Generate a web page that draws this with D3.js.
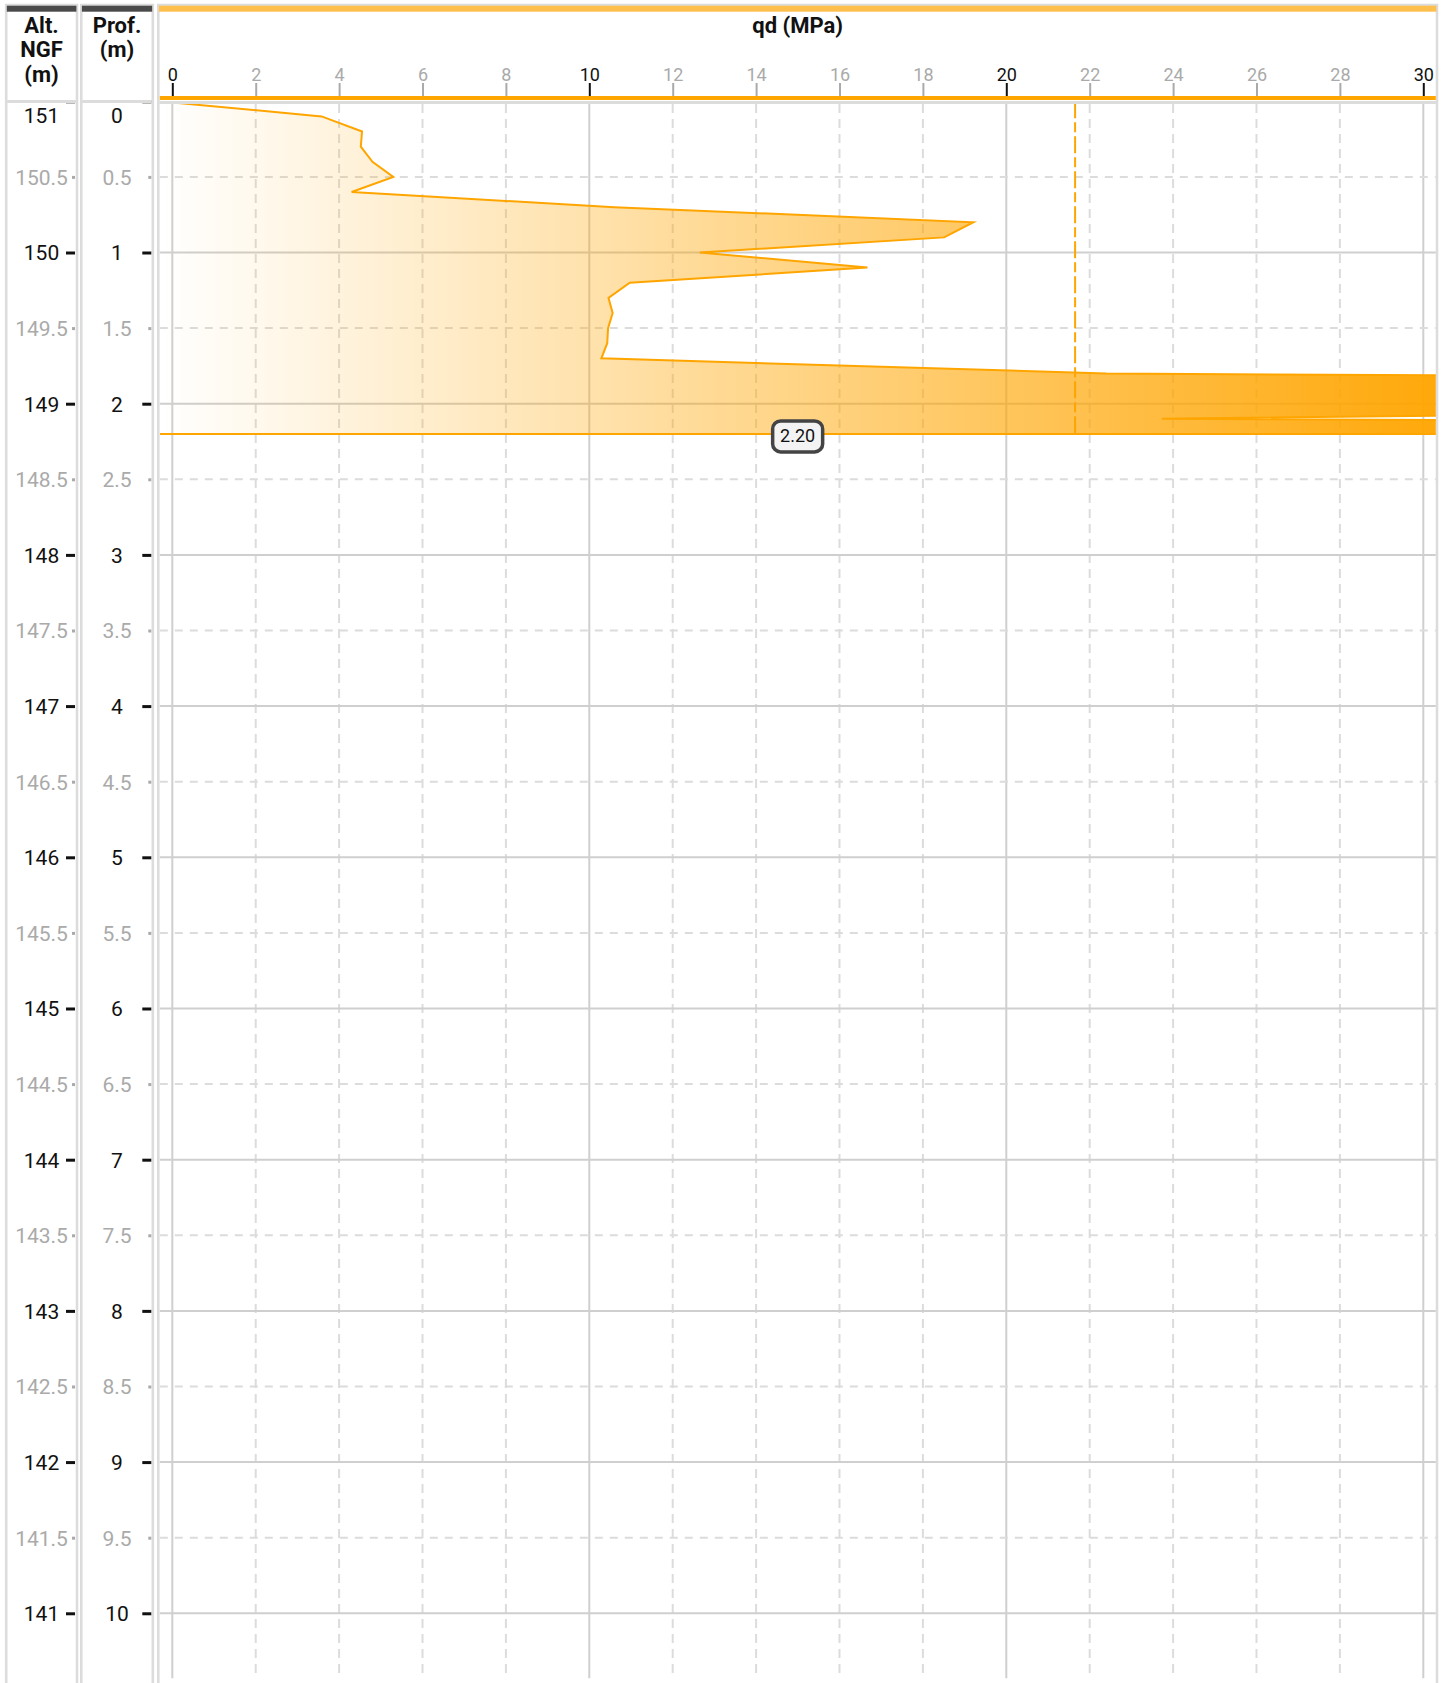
<!DOCTYPE html>
<html><head><meta charset="utf-8">
<script src="https://cdn.jsdelivr.net/npm/d3@7"></script>
<style>body{margin:0;background:#fff}svg{display:block;font-family:Roboto,"Noto Sans",sans-serif}</style>
</head><body><svg id="c" width="1448" height="1683"></svg>
<script>
// ---- data ----
const depths = [0.1,0.2,0.3,0.4,0.5,0.6,0.7,0.8,0.9,1.0,1.1,1.2,1.3,1.4,1.5,1.6,1.7,1.8,1.9,2.0,2.1,2.2];
const qd     = [3.58,4.55,4.52,4.80,5.30,4.30,10.6,19.21,18.51,12.65,16.67,10.97,10.46,10.56,10.45,10.43,10.29,22.4,85,55,23.73,107];
const groundAlt = 151;
const endDepth = 2.2;
const endLabel = "2.20";
const meanQd = 21.65;
const xTicks = [0,2,4,6,8,10,12,14,16,18,20,22,24,26,28,30];
const xMajor = [0,10,20,30];
const depthTicks = [0,0.5,1,1.5,2,2.5,3,3.5,4,4.5,5,5.5,6,6.5,7,7.5,8,8.5,9,9.5,10];
const altLabels = ["151","150.5","150","149.5","149","148.5","148","147.5","147","146.5","146","145.5","145","144.5","144","143.5","143","142.5","142","141.5","141"];
const depthLabels = ["0","0.5","1","1.5","2","2.5","3","3.5","4","4.5","5","5.5","6","6.5","7","7.5","8","8.5","9","9.5","10"];

// ---- layout ----
const W = 1448, H = 1683;
const svg = d3.select('#c');
const x = d3.scaleLinear().domain([-0.3, 30.3]).range([159.8, 1435.8]);
const y = d3.scaleLinear().domain([0, 10.43]).range([101.3, 1678.3]);
const ORANGE = '#FFA500';
const isMajorX = v => xMajor.includes(v);
const isMajorD = v => Math.abs(v - Math.round(v)) < 1e-9;

const defs = svg.append('defs');
const grad = defs.append('linearGradient').attr('id','g').attr('gradientUnits','userSpaceOnUse')
  .attr('x1', x.range()[0]).attr('x2', x.range()[1]).attr('y1',0).attr('y2',0);
grad.append('stop').attr('offset',0).attr('stop-color',ORANGE).attr('stop-opacity',0);
grad.append('stop').attr('offset',1).attr('stop-color',ORANGE).attr('stop-opacity',0.96);
defs.append('clipPath').attr('id','clip').append('rect')
  .attr('x', x.range()[0]).attr('y', 104).attr('width', x.range()[1]-x.range()[0]).attr('height', y.range()[1]-104);

// column frames
const cols = [{x0:6.2, x1:77, bar:'#4a4a4a'}, {x0:81.3, x1:152.8, bar:'#4a4a4a'}, {x0:158.3, x1:1437, bar:'#FFBF4D'}];
cols.forEach(c => {
  svg.append('rect').attr('x', c.x0).attr('y', 5).attr('width', c.x1 - c.x0).attr('height', H + 20)
    .attr('fill','none').attr('stroke','#dcdcdc').attr('stroke-width',2.6);
  svg.append('rect').attr('x', c.x0 + 0.6).attr('y', 5.7).attr('width', c.x1 - c.x0 - 1.2).attr('height', 6)
    .attr('fill', c.bar);
});

// grid
const grid = svg.append('g');
grid.selectAll('line.v').data(xTicks).join('line')
  .attr('x1', d => x(d)).attr('x2', d => x(d)).attr('y1', 104).attr('y2', y.range()[1])
  .attr('stroke', d => isMajorX(d) ? '#cfcfcf' : '#dcdcdc')
  .attr('stroke-width', 2)
  .attr('stroke-dasharray', d => isMajorX(d) ? null : '9,6');
grid.selectAll('line.h').data(depthTicks.filter(d => d > 0)).join('line')
  .attr('x1', x.range()[0]).attr('x2', x.range()[1]).attr('y1', d => y(d)).attr('y2', d => y(d))
  .attr('stroke', d => isMajorD(d) ? '#cfcfcf' : '#dcdcdc')
  .attr('stroke-width', 2)
  .attr('stroke-dasharray', d => isMajorD(d) ? null : '8,7');

// profile
const pts = [[x.domain()[0], 0]].concat(depths.map((d,i) => [qd[i], d])).concat([[x.domain()[0], endDepth]]);
const line = d3.line().x(p => x(p[0])).y(p => y(p[1]));
const plot = svg.append('g').attr('clip-path','url(#clip)');
plot.append('path').attr('d', line(pts) + 'Z').attr('fill','url(#g)').attr('stroke','none');
plot.append('path').attr('d', line(pts)).attr('fill','none').attr('stroke',ORANGE)
  .attr('stroke-width',2).attr('stroke-linejoin','miter');
plot.append('line').attr('x1', x(meanQd)).attr('x2', x(meanQd)).attr('y1', y(0)).attr('y2', y(endDepth))
  .attr('stroke', ORANGE).attr('stroke-width', 2).attr('stroke-dasharray','17,4,10,4');

// end label
const cx = (cols[2].x0 + cols[2].x1) / 2, cy = y(endDepth) + 2;
svg.append('rect').attr('x', cx - 25).attr('y', cy - 15).attr('width', 50).attr('height', 31)
  .attr('rx', 8).attr('fill','#f3f3f3').attr('stroke','#444').attr('stroke-width',3.5);
svg.append('text').attr('x', cx).attr('y', cy + 6.5).attr('text-anchor','middle')
  .attr('font-size', 18).attr('fill','#111').text(endLabel);

// header separators
cols.forEach((c,i) => {
  svg.append('line').attr('x1', c.x0 + 1).attr('x2', c.x1 - 1)
    .attr('y1', i < 2 ? 101.5 : 102.5).attr('y2', i < 2 ? 101.5 : 102.5)
    .attr('stroke','#dcdcdc').attr('stroke-width',3);
});
// orange axis line
svg.append('line').attr('x1', x.range()[0]).attr('x2', x.range()[1]).attr('y1', 98).attr('y2', 98)
  .attr('stroke', ORANGE).attr('stroke-width', 4);

// x axis
const xa = svg.append('g').attr('transform','translate(0,96)')
  .call(d3.axisTop(x).tickValues(xTicks).tickSize(13).tickPadding(2).tickFormat(d3.format('d')));
xa.select('.domain').remove();
xa.attr('font-family', null).attr('font-size', 18);
xa.selectAll('.tick line').attr('stroke', d => isMajorX(d) ? '#111' : '#aaa').attr('stroke-width', 2);
xa.selectAll('.tick text').attr('fill', d => isMajorX(d) ? '#111' : '#aaa');

// y axes (altitude, depth)
function yAxis(axisX, centerX, labels) {
  const g = svg.append('g').attr('transform', `translate(${axisX},0)`)
    .call(d3.axisLeft(y).tickValues(depthTicks).tickSize(0).tickFormat((d,i) => labels[i]));
  g.select('.domain').remove();
  g.attr('font-family', null).attr('font-size', 21);
  g.selectAll('.tick line')
    .attr('x1', 0).attr('x2', d => isMajorD(d) ? -9 : -3)
    .attr('stroke', d => isMajorD(d) ? '#111' : '#aaa').attr('stroke-width', 3);
  g.selectAll('.tick text')
    .attr('x', centerX - axisX).attr('text-anchor','middle').attr('dy', null)
    .attr('y', d => (d === 0 ? 13.5 : 0) + 7.4)
    .attr('fill', d => isMajorD(d) ? '#111' : '#aaa');
  return g;
}
yAxis(75, 41.5, altLabels);
yAxis(151.3, 117, depthLabels);

// redraw header separators over top ticks
cols.slice(0,2).forEach(c => {
  svg.append('line').attr('x1', c.x0 + 1).attr('x2', c.x1 - 1).attr('y1', 101.5).attr('y2', 101.5)
    .attr('stroke','#dcdcdc').attr('stroke-width',3);
});

// header titles
const hdr = svg.append('g').attr('font-weight','bold').attr('font-size',22).attr('fill','#111').attr('text-anchor','middle');
[["Alt.", 32.7], ["NGF", 57.4], ["(m)", 82]].forEach(([t, yy]) => hdr.append('text').attr('x', 41.5).attr('y', yy).text(t));
[["Prof.", 32.7], ["(m)", 57.4]].forEach(([t, yy]) => hdr.append('text').attr('x', 117).attr('y', yy).text(t));
hdr.append('text').attr('x', (cols[2].x0 + cols[2].x1)/2).attr('y', 33.3).attr('font-size', 22).text('qd (MPa)');
</script></body></html>
